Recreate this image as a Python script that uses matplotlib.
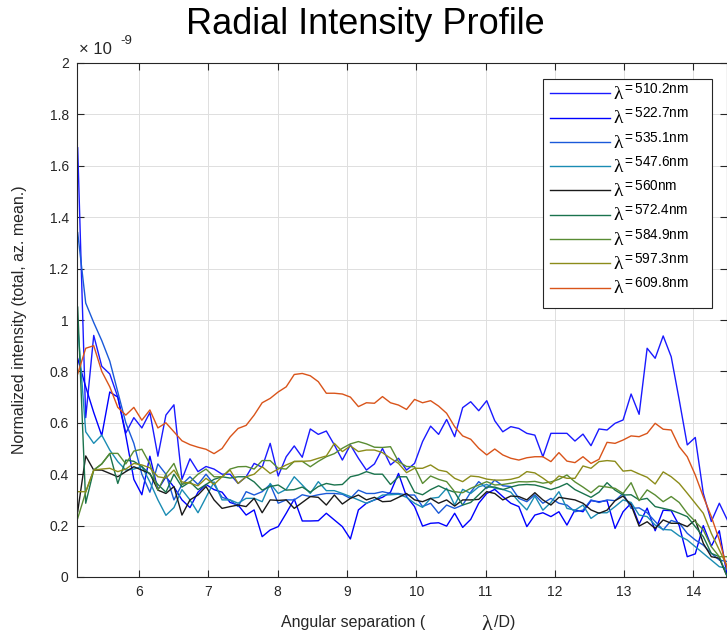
import numpy as np
import matplotlib
matplotlib.use('Agg')
import matplotlib.pyplot as plt
from matplotlib.patches import Rectangle
from matplotlib.ticker import FuncFormatter

plt.rcParams['font.family'] = ['Liberation Sans', 'DejaVu Sans']
plt.rcParams['mathtext.fontset'] = 'custom'
plt.rcParams['mathtext.rm'] = 'Liberation Serif'
plt.rcParams['mathtext.it'] = 'Liberation Serif:italic'
plt.rcParams['mathtext.sf'] = 'Liberation Sans'

# angular separation grid (lambda/D), 82 radial samples
sep = np.linspace(5.115, 14.49, 82)

labels = ['510.2nm', '522.7nm', '535.1nm', '547.6nm', '560nm',
          '572.4nm', '584.9nm', '597.3nm', '609.8nm']
colors = [(0.1, 0.1, 1.0), (0.0, 0.0, 1.0), (0.1, 0.35, 0.85), (0.1, 0.55, 0.7),
          (0.1, 0.1, 0.1), (0.1, 0.45, 0.3), (0.35, 0.55, 0.2), (0.55, 0.55, 0.1),
          (0.85, 0.33, 0.1)]

# intensity in units of 1e-9
i510 = [1.67, 0.62, 0.94, 0.82, 0.79, 0.70, 0.56, 0.62, 0.58, 0.64,
        0.47, 0.63, 0.67, 0.38, 0.46, 0.41, 0.43, 0.42, 0.40, 0.40,
        0.364, 0.39, 0.442, 0.427, 0.52, 0.393, 0.468, 0.51, 0.466, 0.576,
        0.555, 0.568, 0.514, 0.455, 0.514, 0.462, 0.416, 0.44, 0.50, 0.436,
        0.462, 0.416, 0.442, 0.527, 0.587, 0.555, 0.613, 0.546, 0.659, 0.682,
        0.647, 0.686, 0.608, 0.565, 0.585, 0.578, 0.559, 0.552, 0.468, 0.559,
        0.559, 0.559, 0.529, 0.556, 0.511, 0.576, 0.572, 0.598, 0.611, 0.712,
        0.633, 0.89, 0.851, 0.938, 0.857, 0.689, 0.514, 0.543, 0.326, 0.216,
        0.287, 0.222]
i522 = [0.85, 0.74, 0.64, 0.55, 0.72, 0.70, 0.55, 0.38, 0.32, 0.47,
        0.34, 0.39, 0.35, 0.30, 0.27, 0.33, 0.36, 0.34, 0.33, 0.29,
        0.28, 0.241, 0.261, 0.157, 0.183, 0.196, 0.248, 0.303, 0.218, 0.218,
        0.219, 0.248, 0.222, 0.196, 0.148, 0.261, 0.287, 0.30, 0.31, 0.33,
        0.403, 0.313, 0.274, 0.198, 0.209, 0.211, 0.198, 0.248, 0.193, 0.224,
        0.287, 0.325, 0.341, 0.313, 0.287, 0.274, 0.196, 0.241, 0.25, 0.235,
        0.254, 0.202, 0.261, 0.254, 0.297, 0.293, 0.297, 0.189, 0.254, 0.287,
        0.206, 0.268, 0.18, 0.26, 0.258, 0.2, 0.079, 0.09, 0.2, 0.12,
        0.18, 0.0]
i535 = [1.34, 1.066, 0.99, 0.92, 0.84, 0.72, 0.60, 0.52, 0.40, 0.33,
        0.44, 0.40, 0.30, 0.36, 0.39, 0.36, 0.40, 0.36, 0.31, 0.30,
        0.274, 0.332, 0.319, 0.332, 0.36, 0.287, 0.30, 0.30, 0.32, 0.313,
        0.32, 0.325, 0.325, 0.322, 0.306, 0.338, 0.325, 0.325, 0.332, 0.325,
        0.325, 0.319, 0.319, 0.274, 0.287, 0.248, 0.28, 0.267, 0.28, 0.33,
        0.371, 0.345, 0.377, 0.355, 0.352, 0.306, 0.293, 0.32, 0.287, 0.306,
        0.287, 0.28, 0.254, 0.26, 0.30, 0.29, 0.30, 0.297, 0.325, 0.267,
        0.269, 0.25, 0.216, 0.183, 0.22, 0.21, 0.17, 0.144, 0.124, 0.092,
        0.066, 0.06]
i547 = [0.98, 0.565, 0.52, 0.552, 0.494, 0.449, 0.416, 0.42, 0.43, 0.37,
        0.30, 0.24, 0.27, 0.34, 0.30, 0.25, 0.31, 0.37, 0.30, 0.30,
        0.287, 0.306, 0.306, 0.293, 0.364, 0.325, 0.341, 0.39, 0.358, 0.325,
        0.371, 0.336, 0.336, 0.325, 0.313, 0.30, 0.287, 0.30, 0.319, 0.32,
        0.322, 0.31, 0.287, 0.271, 0.306, 0.31, 0.345, 0.28, 0.341, 0.325,
        0.351, 0.36, 0.345, 0.341, 0.33, 0.293, 0.261, 0.315, 0.26, 0.29,
        0.332, 0.267, 0.26, 0.28, 0.228, 0.25, 0.25, 0.274, 0.30, 0.29,
        0.241, 0.235, 0.202, 0.185, 0.183, 0.16, 0.144, 0.118, 0.092, 0.066,
        0.04, 0.034]
i560 = [0.254, 0.471, 0.416, 0.416, 0.403, 0.39, 0.41, 0.429, 0.416, 0.403,
        0.338, 0.325, 0.352, 0.241, 0.30, 0.319, 0.352, 0.30, 0.267, 0.274,
        0.28, 0.274, 0.306, 0.25, 0.30, 0.298, 0.30, 0.267, 0.29, 0.313,
        0.31, 0.28, 0.319, 0.284, 0.306, 0.319, 0.30, 0.31, 0.293, 0.295,
        0.31, 0.325, 0.30, 0.293, 0.306, 0.287, 0.30, 0.276, 0.30, 0.30,
        0.302, 0.332, 0.325, 0.30, 0.315, 0.313, 0.30, 0.328, 0.30, 0.28,
        0.31, 0.305, 0.30, 0.287, 0.261, 0.248, 0.26, 0.297, 0.315, 0.28,
        0.198, 0.215, 0.189, 0.222, 0.209, 0.209, 0.196, 0.222, 0.131, 0.079,
        0.073, 0.0]
i572 = [1.05, 0.287, 0.416, 0.44, 0.48, 0.364, 0.455, 0.45, 0.43, 0.40,
        0.36, 0.33, 0.40, 0.35, 0.37, 0.34, 0.36, 0.38, 0.39, 0.385,
        0.39, 0.39, 0.37, 0.338, 0.352, 0.358, 0.338, 0.34, 0.35, 0.33,
        0.352, 0.364, 0.358, 0.36, 0.39, 0.397, 0.41, 0.40, 0.40, 0.36,
        0.39, 0.39, 0.33, 0.32, 0.34, 0.355, 0.34, 0.33, 0.28, 0.29,
        0.32, 0.35, 0.35, 0.34, 0.35, 0.358, 0.36, 0.358, 0.35, 0.34,
        0.35, 0.364, 0.34, 0.325, 0.31, 0.33, 0.367, 0.338, 0.319, 0.32,
        0.30, 0.306, 0.274, 0.267, 0.26, 0.248, 0.235, 0.196, 0.157, 0.092,
        0.079, 0.0]
i584 = [0.228, 0.33, 0.416, 0.44, 0.481, 0.481, 0.44, 0.49, 0.497, 0.44,
        0.338, 0.40, 0.442, 0.36, 0.37, 0.40, 0.42, 0.39, 0.39, 0.42,
        0.429, 0.43, 0.42, 0.453, 0.453, 0.423, 0.42, 0.45, 0.45, 0.429,
        0.45, 0.468, 0.48, 0.501, 0.518, 0.527, 0.518, 0.505, 0.504, 0.507,
        0.449, 0.43, 0.429, 0.364, 0.393, 0.38, 0.371, 0.332, 0.328, 0.345,
        0.358, 0.371, 0.358, 0.36, 0.365, 0.371, 0.37, 0.372, 0.365, 0.37,
        0.38, 0.397, 0.37, 0.35, 0.328, 0.354, 0.35, 0.345, 0.325, 0.367,
        0.297, 0.339, 0.319, 0.293, 0.313, 0.29, 0.248, 0.216, 0.183, 0.118,
        0.079, 0.079]
i597 = [0.332, 0.332, 0.416, 0.42, 0.423, 0.41, 0.42, 0.442, 0.436, 0.425,
        0.39, 0.385, 0.416, 0.37, 0.365, 0.355, 0.384, 0.36, 0.39, 0.416,
        0.364, 0.39, 0.40, 0.429, 0.403, 0.42, 0.436, 0.449, 0.45, 0.452,
        0.462, 0.471, 0.52, 0.488, 0.51, 0.488, 0.494, 0.494, 0.484, 0.462,
        0.442, 0.406, 0.423, 0.423, 0.436, 0.416, 0.41, 0.384, 0.371, 0.393,
        0.39, 0.381, 0.377, 0.377, 0.38, 0.388, 0.41, 0.405, 0.385, 0.362,
        0.393, 0.384, 0.384, 0.432, 0.423, 0.449, 0.453, 0.45, 0.412, 0.415,
        0.401, 0.388, 0.362, 0.409, 0.39, 0.364, 0.326, 0.287, 0.248, 0.17,
        0.105, 0.04]
i609 = [0.79, 0.89, 0.90, 0.80, 0.74, 0.66, 0.63, 0.66, 0.61, 0.65,
        0.58, 0.60, 0.565, 0.53, 0.515, 0.505, 0.497, 0.48, 0.50, 0.545,
        0.578, 0.59, 0.63, 0.678, 0.695, 0.72, 0.74, 0.788, 0.792, 0.783,
        0.76, 0.715, 0.715, 0.712, 0.70, 0.663, 0.678, 0.676, 0.702, 0.678,
        0.669, 0.652, 0.691, 0.678, 0.686, 0.665, 0.637, 0.585, 0.549, 0.536,
        0.501, 0.475, 0.498, 0.475, 0.462, 0.455, 0.464, 0.468, 0.468, 0.449,
        0.484, 0.451, 0.445, 0.468, 0.442, 0.458, 0.524, 0.52, 0.533, 0.549,
        0.546, 0.559, 0.598, 0.575, 0.572, 0.507, 0.468, 0.397, 0.313, 0.235,
        0.144, 0.03]

profiles = [i510, i522, i535, i547, i560, i572, i584, i597, i609]


def main():
    fig = plt.figure(figsize=(7.27, 6.38), dpi=100)
    ax = fig.add_axes([77 / 727, 1 - 577 / 638, 650 / 727, 514 / 638])

    for prof, lab, col in zip(profiles, labels, colors):
        # MATLAB-like "\lambda^=..." label: big lambda, raised text
        ax.plot(sep, prof, color=col, lw=1.0,
                label=r'$\mathrm{\lambda}^{\mathsf{=' + lab + r'}}$')

    ax.set_xlim(5.105, 14.485)
    ax.set_ylim(0, 2)
    ax.set_xticks(range(6, 15))
    ax.set_yticks(np.arange(0, 2.01, 0.2))
    ax.yaxis.set_major_formatter(FuncFormatter(lambda v, p: '%g' % round(v, 1)))
    ax.grid(True, color=(0.87, 0.87, 0.87), lw=0.7)
    ax.set_axisbelow(True)
    ax.tick_params(direction='in', length=5, width=0.8, top=True, right=True,
                   labelsize=10, colors=(0.15, 0.15, 0.15), pad=6)
    for s in ax.spines.values():
        s.set_color((0.15, 0.15, 0.15))
        s.set_linewidth(0.8)

    # legend box drawn by hand, MATLAB leaves a wide gap right of the text
    x0 = (543 - 77) / 650
    x1 = (712 - 77) / 650
    y0 = (577 - 308) / 514
    y1 = (577 - 79) / 514
    ax.add_patch(Rectangle((x0, y0), x1 - x0, y1 - y0, transform=ax.transAxes,
                           facecolor='white', edgecolor=(0.15, 0.15, 0.15),
                           lw=0.8, zorder=4))
    ax.legend(loc='upper left', bbox_to_anchor=(x0, y1 + 3 / 514), borderaxespad=0,
              fontsize=14, handlelength=3.1, labelspacing=0.16, frameon=False,
              borderpad=0.35, handletextpad=0.15).set_zorder(5)

    dark = (0.15, 0.15, 0.15)
    fig.text(0.503, 1 - 25 / 638, 'Radial Intensity Profile', ha='center', va='center',
             fontsize=26)
    fig.text(79 / 727, 1 - 50 / 638, '× 10', ha='left', va='center',
             fontsize=12, color=dark)
    fig.text(120 / 727, 1 - 41 / 638, '-9', ha='left', va='center',
             fontsize=9.5, color=dark)
    fig.text(425 / 727, 1 - 622 / 638, 'Angular separation (', ha='right', va='center',
             fontsize=11.5, color=dark)
    fig.text(481 / 727, 1 - 625 / 638, r'$\mathrm{\lambda}$', ha='left', va='center',
             fontsize=16, color=dark)
    fig.text(494 / 727, 1 - 622 / 638, '/D)', ha='left', va='center',
             fontsize=11.5, color=dark)
    fig.text(20 / 727, 1 - 320 / 638, 'Normalized intensity (total, az. mean.)',
             ha='center', va='center', rotation=90, fontsize=11.5, color=dark)

    fig.savefig('out.png', dpi=100)


if __name__ == '__main__':
    main()
